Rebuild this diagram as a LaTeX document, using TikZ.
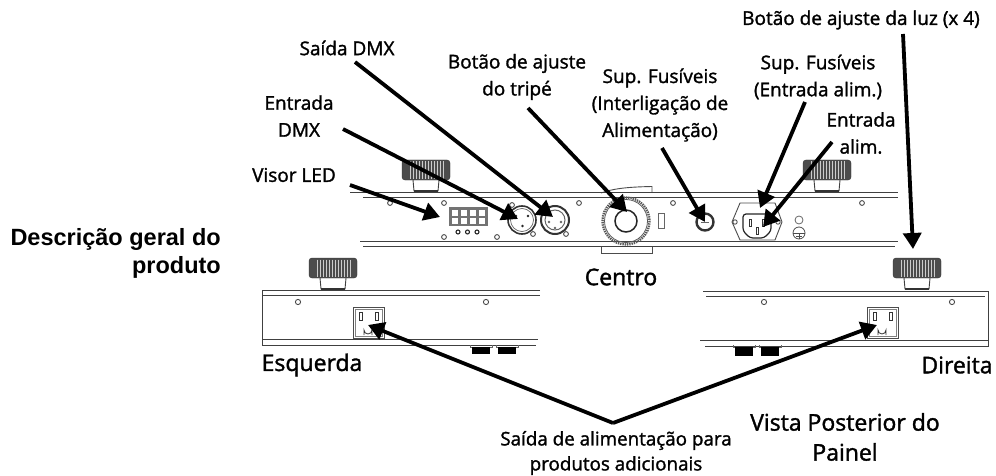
\documentclass[tikz,border=0pt]{standalone}
\usepackage{fontspec}
\setmainfont{Open Sans}
\newfontfamily\arialfont{Liberation Sans}
\newfontfamily\labelfont[FakeBold=1.5]{Open Sans}
\usetikzlibrary{arrows.meta}

\tikzset{
        lbl/.style={font=\labelfont\fontsize{19}{27}\selectfont, align=center, inner sep=0pt},
        viewlbl/.style={font=\labelfont\fontsize{23}{30}\selectfont, align=center, inner sep=0pt},
        rail/.style={line width=1pt, draw=black!75},
        screw/.style={draw=black!70, line width=0.9pt, fill=white},
        callout/.style={line width=3.8pt, -{Triangle[length=16pt,width=18pt]}}
}

% knob seen from behind, x = left edge, y = top edge
\newcommand{\knobat}[2]{
        \begin{scope}[shift={(#1,#2)}]
                \draw[black!75, line width=0.9pt] (11,20) -- (12,31) -- (36,31) -- (37,20);
                \draw[line width=1.6pt, black!80] (12,31) -- (36,31);
                \draw[fill=black!70, draw=black!80, rounded corners=3pt] (0,0) rectangle (48,20);
                \foreach \rib in {8,11,...,41}
                        \draw[white!80!black, line width=1pt] (\rib,1.5) -- (\rib,18.5);
        \end{scope}
}
% rear outlet on the side panels, x = left edge, y = top edge
\newcommand{\outletat}[2]{
        \begin{scope}[shift={(#1,#2)}]
                \draw[black!70, line width=1pt, fill=white] (0,0) rectangle (31,31);
                \draw[black!50, line width=0.7pt] (2,2) rectangle (29,29);
                \draw[black!80, line width=0.8pt] (6,5) rectangle (9,13);
                \draw[black!80, line width=0.8pt] (22,5) rectangle (25,13);
                \draw[black!80, line width=0.8pt] (11,28) -- (11,23) arc (180:0:4) -- (19,28);
        \end{scope}
}

\begin{document}
\begin{tikzpicture}[x=1pt, y=-1pt]
        \useasboundingbox (0,0) rectangle (996,476);

        % centre panel
        \knobat{402}{160}
        \knobat{803}{160}
        \draw[black!70, line width=0.9pt] (601,193) .. controls (612,189) and (625,187) .. (652,186.5) -- (652,192);
        \draw[black!70, line width=0.9pt] (601,246) -- (601,253) -- (652,253) -- (652,246);
        \draw[rail] (350,192) -- (898,192);
        \draw[rail] (363,197) -- (898,197);
        \draw[rail] (360,241) -- (898,241);
        \draw[rail] (363,246) -- (895,246);
        \foreach \x/\y in {390/203,444/203,579/203,673/203,444/237,497/237,512/205,533/234,566/234,862/203}
                \draw[screw] (\x,\y) circle (2.4);
        % led display
        \draw[fill=black!55, draw=black!55] (449,207) rectangle (487,225);
        \foreach \x in {451.5,460.5,469.5,478.5} \foreach \y in {209.5,217.5}
                \draw[fill=white, draw=none] (\x,\y) rectangle ++(6,6);
        \foreach \x in {458,467.5,477}
                \draw[black!85, line width=1.1pt] (\x,232) circle (2);
        % dmx in and out
        \draw[black!80, line width=1.6pt] (522,220) circle (14);
        \draw[black!60, line width=0.7pt] (522,220) circle (11.5);
        \foreach \x/\y in {516/216,528/216,522.5/226}
                \fill[black!85] (\x,\y) circle (1.4);
        \draw[black!80, line width=2pt] (555,220) circle (14);
        \draw[black!60, line width=1pt] (555,220) circle (10);
        \foreach \x/\y in {549/222,561/222,555/228}
                \fill[black!60] (\x,\y) circle (1.3);
        % tripod dial
        \draw[black!65, line width=2.4pt, dash pattern=on 1.4pt off 0.9pt] (626,221) circle (23.5);
        \draw[black!65, line width=0.8pt] (626,221) circle (21.5);
        \draw[black!85, line width=1.5pt] (626,221) circle (11);
        \draw[black!60, line width=0.8pt] (658,213) rectangle (664,228);
        % fuse holder
        \draw[black!80, line width=2.4pt] (705,222) circle (8.5);
        \draw[black!60, line width=1pt] (701,222) -- (709,222);
        % power inlet
        \draw[black!70, line width=0.9pt, fill=white] (740,203) -- (775,203) -- (782,222) -- (775,240) -- (740,240) -- (732,222) -- cycle;
        \draw[black!85, line width=1.2pt, rounded corners=3pt] (743,214) -- (771,214) -- (771,231) -- (764,238) -- (750,238) -- (743,231) -- cycle;
        \draw[black!80, line width=0.8pt] (749,219) rectangle (751,226);
        \draw[black!80, line width=0.8pt] (762,219) rectangle (764,226);
        \draw[black!80, line width=0.8pt] (756,227) rectangle (758,234);
        \foreach \x in {735,778}
                \draw[screw] (\x,222) circle (2.2);
        % ground mark
        \draw[black!60, line width=0.8pt] (799,220) circle (4);
        \draw[black!70, line width=0.8pt] (799,233) circle (6);
        \draw[black!70, line width=0.8pt] (793,233) -- (805,233) (799,233) -- (799,239) (796,236) -- (802,236);

        % left panel
        \knobat{309}{258}
        \draw[rail] (540,290) -- (262,290) -- (262,345) -- (536,345);
        \draw[rail] (263,295) -- (540,295);
        \draw[rail] (262,339) -- (538,339);
        \foreach \x in {298,486}
                \draw[screw] (\x,302) circle (2.6);
        \outletat{353}{307}
        \foreach \x in {472,498} {
                \draw[black!60, line width=0.7pt] (\x-2,345) -- (\x-2,347) -- (\x+20,347) -- (\x+20,345);
                \fill[black] (\x,347) rectangle (\x+18,354);
        }

        % right panel
        \knobat{893}{258}
        \draw[rail] (703,291) -- (988,291) -- (988,346) -- (705,346);
        \draw[rail] (706,296) -- (985,296);
        \draw[rail] (700,340) -- (988,340);
        \foreach \x in {764,952}
                \draw[screw] (\x,302) circle (2.6);
        \outletat{867}{307}
        \foreach \x in {735,761} {
                \draw[black!60, line width=0.7pt] (\x-2,345) -- (\x-2,347) -- (\x+20,347) -- (\x+20,345);
                \fill[black] (\x,347) rectangle (\x+18,356);
        }

        % labels
        \node [lbl] (luz) at (861,20) {Botão de ajuste da luz (x 4)};
        \node [lbl] (saidadmx) at (347,48) {Saída DMX};
        \node [lbl] (tripe) at (517,77) {Botão de ajuste\\do tripé};
        \node [lbl] (fusint) at (660,105) {Sup. Fusíveis\\(Interligação de\\Alimentação)};
        \node [lbl] (fusent) at (818,77) {Sup. Fusíveis\\(Entrada alim.)};
        \node [lbl] (alim) at (861,133) {Entrada\\alim.};
        \node [lbl] (entdmx) at (299,116) {Entrada\\DMX};
        \node [lbl] (visor) at (294,175) {Visor LED};
        \node [font=\arialfont\fontsize{23.5}{28}\selectfont\bfseries, align=right, inner sep=0pt, anchor=north east] (titulo) at (221,228) {Descrição geral do\\produto};
        \node [viewlbl] (centro) at (621,277) {Centro};
        \node [viewlbl] (esq) at (312,365) {Esquerda};
        \node [viewlbl] (dir) at (957,365) {Direita};
        \node [viewlbl] (vista) at (845,437) {Vista Posterior do\\Painel};
        \node [lbl, font=\labelfont\fontsize{18.8}{25}\selectfont] (saidaalim) at (616,453) {Saída de alimentação para\\produtos adicionais};

        % callout ends
        \coordinate (visorA) at (350,185);     \coordinate (visorB) at (440,217);
        \coordinate (entA) at (343,129);       \coordinate (entB) at (518,219);
        \coordinate (saiA) at (355,62);        \coordinate (saiB) at (553,217);
        \coordinate (triA) at (528,108);       \coordinate (triB) at (627,212);
        \coordinate (fusA) at (662,148);       \coordinate (fusB) at (705,222);
        \coordinate (feA) at (805,102);        \coordinate (feB) at (760,208);
        \coordinate (alA) at (832,142);        \coordinate (alB) at (763,227);
        \coordinate (luA) at (903,34);         \coordinate (luB) at (913,249);
        \coordinate (apex) at (613,423);       \coordinate (oeB) at (368,325);
        \coordinate (odB) at (877,325);

        \begin{scope}[every path/.style={callout}]
                \path (visorA) edge (visorB);
                \path (entA) edge (entB);
                \path (saiA) edge (saiB);
                \path (triA) edge (triB);
                \path (fusA) edge (fusB);
                \path (feA) edge (feB);
                \path (alA) edge (alB);
                \path (luA) edge (luB);
                \path (apex) edge (oeB);
                \path (apex) edge (odB);
        \end{scope}
\end{tikzpicture}
\end{document}
